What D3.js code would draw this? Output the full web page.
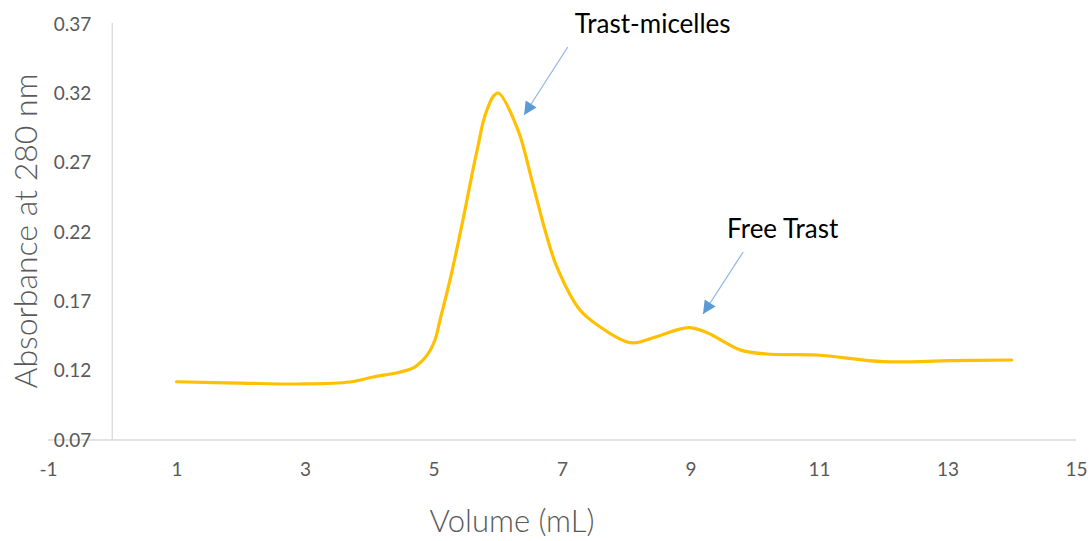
<!DOCTYPE html>
<html>
<head>
<meta charset="utf-8">
<script src="https://cdn.jsdelivr.net/npm/d3@7"></script>
<style>
  html, body { margin: 0; padding: 0; background: #fff; }
  svg { display: block; }
  text { font-family: Lato, "Open Sans", sans-serif; }
</style>
</head>
<body>
<svg id="chart" width="1090" height="541"></svg>
<script>
// Elution profile: volume (mL) vs absorbance at 280 nm
const volume = [1, 2, 2.9, 3.7, 4.06, 4.48, 4.712, 4.919, 5.023, 5.101, 5.257, 5.464, 5.619, 5.697, 5.775, 5.853, 5.931, 6.009, 6.315, 6.53, 6.735, 6.92, 7.28, 7.59, 8.0, 8.16, 8.47, 8.97, 9.26, 9.77, 10.19, 10.97, 12.0, 13.04, 14.0];
const absorbance = [0.112, 0.111, 0.1104, 0.1118, 0.1154, 0.119, 0.1228, 0.1325, 0.1421, 0.1565, 0.1854, 0.2300, 0.2661, 0.2829, 0.2998, 0.3106, 0.3178, 0.3202, 0.2935, 0.2575, 0.2214, 0.1948, 0.1637, 0.1517, 0.1409, 0.1402, 0.1445, 0.151, 0.1474, 0.135, 0.132, 0.1313, 0.1265, 0.1272, 0.1277];

const xTicks = [-1, 1, 3, 5, 7, 9, 11, 13, 15];
const yTicks = [0.07, 0.12, 0.17, 0.22, 0.27, 0.32, 0.37];

// Annotations: label anchor, arrow tail and arrow tip in data units
const annotLabels = ["Trast-micelles", "Free Trast"];
const annotText = [[7.20, 0.3635], [9.57, 0.2160]];
const annotTail = [[7.09, 0.3534], [9.82, 0.2056]];
const annotTip = [[6.41, 0.3044], [9.195, 0.1609]];

const svg = d3.select("#chart");
const x = d3.scaleLinear().domain([-1, 15]).range([48, 1076]);
const y = d3.scaleLinear().domain([0.07, 0.37]).range([440, 24]);

const axisColor = "#d9d9d9";
const textColor = "#595959";

// horizontal axis line spans the whole x domain
svg.append("line")
  .attr("x1", x(-1)).attr("x2", x(15))
  .attr("y1", y(0.07)).attr("y2", y(0.07))
  .attr("stroke", axisColor).attr("stroke-width", 1.3);

// vertical axis sits at x = 0
svg.append("line")
  .attr("x1", x(0)).attr("x2", x(0))
  .attr("y1", y(0.37) - 1).attr("y2", y(0.07))
  .attr("stroke", axisColor).attr("stroke-width", 1.3);

const xAxis = d3.axisBottom(x).tickValues(xTicks).tickSize(0).tickPadding(23).tickFormat(d => String(d));
svg.append("g")
  .attr("transform", `translate(0,${y(0.07)})`)
  .call(xAxis)
  .call(g => g.select(".domain").remove())
  .call(g => g.selectAll("text").attr("fill", textColor).style("font-size", "19px").style("font-family", "Lato, sans-serif"));

const yAxis = d3.axisLeft(y).tickValues(yTicks).tickSize(0).tickPadding(21).tickFormat(d3.format(".2f"));
svg.append("g")
  .attr("transform", `translate(${x(0)},0)`)
  .call(yAxis)
  .call(g => g.select(".domain").remove())
  .call(g => g.selectAll("text").attr("fill", textColor).style("font-size", "19px").style("font-family", "Lato, sans-serif"));

// axis titles
svg.append("text")
  .attr("x", 512).attr("y", 532)
  .attr("text-anchor", "middle")
  .attr("fill", textColor)
  .style("font-size", "31px")
  .style("font-weight", 300)
  .text("Volume (mL)");

svg.append("text")
  .attr("transform", "translate(37,231) rotate(-90)")
  .attr("text-anchor", "middle")
  .attr("fill", textColor)
  .style("font-size", "32px")
  .style("font-weight", 300)
  .text("Absorbance at 280 nm");

// the curve
const pts = volume.map((v, i) => [v, absorbance[i]]);
const line = d3.line().x(d => x(d[0])).y(d => y(d[1])).curve(d3.curveCatmullRom.alpha(0.5));
svg.append("path")
  .datum(pts)
  .attr("d", line)
  .attr("fill", "none")
  .attr("stroke", "#ffc000")
  .attr("stroke-width", 3.2)
  .attr("stroke-linecap", "round")
  .attr("stroke-linejoin", "round");

// arrowhead marker
svg.append("defs").append("marker")
  .attr("id", "arrowhead")
  .attr("viewBox", "0 0 10 10")
  .attr("refX", 10).attr("refY", 5)
  .attr("markerWidth", 14).attr("markerHeight", 13)
  .attr("markerUnits", "userSpaceOnUse")
  .attr("orient", "auto")
  .append("path")
  .attr("d", "M0,0 L10,5 L0,10 Z")
  .attr("fill", "#5b9bd5");

annotLabels.forEach((label, i) => {
  svg.append("line")
    .attr("x1", x(annotTail[i][0])).attr("y1", y(annotTail[i][1]))
    .attr("x2", x(annotTip[i][0])).attr("y2", y(annotTip[i][1]))
    .attr("stroke", "#8db4e2").attr("stroke-width", 1.2)
    .attr("marker-end", "url(#arrowhead)");
  svg.append("text")
    .attr("x", x(annotText[i][0])).attr("y", y(annotText[i][1]))
    .attr("fill", "#000")
    .style("font-size", "26px")
    .text(label);
});
</script>
</body>
</html>
